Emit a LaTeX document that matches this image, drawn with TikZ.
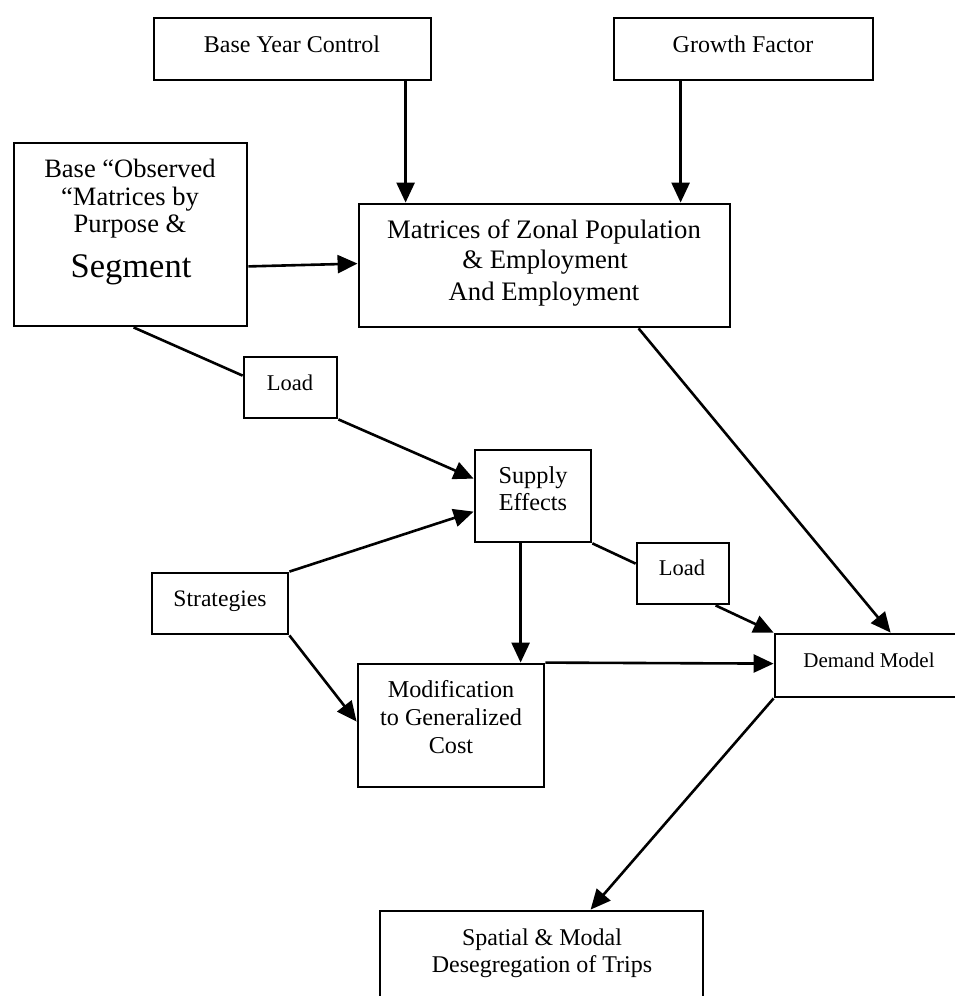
\documentclass[tikz,border=0pt]{standalone}
\usepackage{fontspec}
\setmainfont{Liberation Serif}
\usetikzlibrary{arrows.meta,calc}
\tikzset{
  box/.style={draw, line width=2.8pt, inner sep=0pt, fill=none},
  conn/.style={line width=2.6pt},
  arr/.style={line width=2.6pt, -{Triangle[length=20pt,width=18pt]}},
  txt/.style={anchor=base, inner sep=0pt},
}
\newcommand{\fs}[1]{\fontsize{#1}{#1}\selectfont}
\begin{document}
\begin{tikzpicture}[x=1pt,y=-1pt]
\fill[white] (0,0) rectangle (955,996);
\useasboundingbox (0,0) rectangle (955,996);

% boxes
\node[box, minimum width=277pt, minimum height=62pt] (byc) at (292.5,49) {};
\node[box, minimum width=259pt, minimum height=62pt] (gf) at (743.5,49) {};
\node[box, minimum width=233pt, minimum height=183pt] (base) at (130.5,234.5) {};
\node[box, minimum width=371pt, minimum height=123pt] (mat) at (544.5,265.5) {};
\node[box, minimum width=93pt, minimum height=61pt] (load1) at (290.5,387.5) {};
\node[box, minimum width=116pt, minimum height=92pt] (supply) at (533,496) {};
\node[box, minimum width=92pt, minimum height=61pt] (load2) at (683,573.5) {};
\node[box, minimum width=136pt, minimum height=61pt] (strat) at (220,603.5) {};
\node[box, minimum width=186pt, minimum height=123pt] (mod) at (451,725.5) {};
\node[box, minimum width=189pt, minimum height=63pt] (dem) at (869.5,665.5) {};
\node[box, minimum width=323pt, minimum height=110pt] (spat) at (541.5,966) {};

% texts
\node[txt] (t-byc) at (292,52) {\fs{24}Base Year Control};
\node[txt] (t-gf) at (743,52) {\fs{24}Growth Factor};
\node[txt] (t-base1) at (130,177) {\fs{26.5}Base “Observed};
\node[txt] (t-base2) at (130,205) {\fs{26.5}“Matrices by};
\node[txt] (t-base3) at (130,232) {\fs{26.5}Purpose \&};
\node[txt] (t-base4) at (131,277) {\fs{34.5}Segment};
\node[txt] (t-mat1) at (544,238) {\fs{26.7}Matrices of Zonal Population};
\node[txt] (t-mat2) at (545,268) {\fs{26.7}\& Employment};
\node[txt] (t-mat3) at (544,300) {\fs{26.7}And Employment};
\node[txt] (t-load1) at (290,390) {\fs{22.5}Load};
\node[txt] (t-sup1) at (533,483) {\fs{24.3}Supply};
\node[txt] (t-sup2) at (533,510) {\fs{24.3}Effects};
\node[txt] (t-load2) at (682,575) {\fs{22.5}Load};
\node[txt] (t-strat) at (220,606) {\fs{23.6}Strategies};
\node[txt] (t-mod1) at (451,697) {\fs{24.2}Modification};
\node[txt] (t-mod2) at (451,725) {\fs{24.2}to Generalized};
\node[txt] (t-mod3) at (451,753) {\fs{24.2}Cost};
\node[txt] (t-dem) at (869,667) {\fs{21}Demand Model};
\node[txt] (t-spat1) at (542,945) {\fs{24}Spatial \& Modal};
\node[txt] (t-spat2) at (542,972) {\fs{24}Desegregation of Trips};

% connectors
\draw[arr] ($(byc.south west)+(253,0)$) -- ($(mat.north west)+(48,0)$);
\draw[arr] ($(gf.south west)+(68,0)$) -- ($(mat.north west)+(323,0)$);
\draw[arr] ($(base.south east)+(0,-61)$) -- ($(mat.north west)+(0,61)$);
\draw[conn] ($(base.south west)+(121,0)$) -- ($(load1.north west)+(0,20)$);
\draw[arr] (load1.south east) -- ($(supply.north west)+(0,30)$);
\draw[arr] (strat.north east) -- ($(supply.north west)+(0,63)$);
\draw[arr] (strat.south east) -- ($(mod.north west)+(0,59)$);
\draw[arr] ($(supply.south west)+(47,0)$) -- ($(mod.north west)+(164,0)$);
\draw[conn] (supply.south east) -- ($(load2.north west)+(0,22)$);
\draw[arr] ($(load2.south west)+(80,0)$) -- (dem.north west);
\draw[arr] ($(mat.south west)+(281,0)$) -- ($(dem.north west)+(117,0)$);
\draw[arr] (mod.north east) -- ($(dem.north west)+(0,31)$);
\draw[arr] (dem.south west) -- ($(spat.north west)+(212,0)$);
\end{tikzpicture}
\end{document}
